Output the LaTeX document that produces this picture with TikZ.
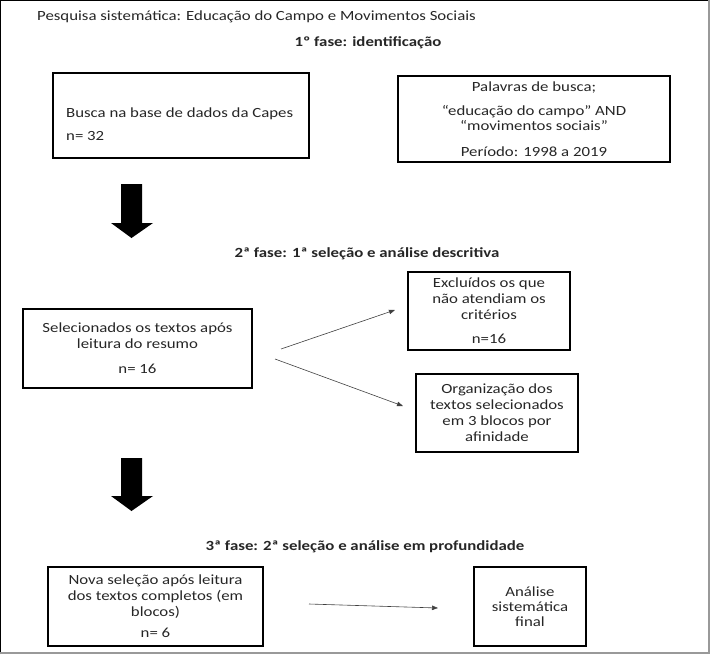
\documentclass[tikz,border=0pt]{standalone}
\usepackage{fontspec}
\setmainfont{Carlito}[FakeStretch=1.2]
\usetikzlibrary{arrows.meta}
\begin{document}
\begin{tikzpicture}[x=1pt,y=-1pt,
  txt/.style={inner sep=0pt, font=\fontsize{14}{16}\selectfont, text=black!85},
  box/.style={draw=black, line width=1.1pt, inner sep=0pt, align=center,
              font=\fontsize{14}{16}\selectfont, text=black!85},
  head/.style={inner sep=0pt, font=\fontsize{14}{16}\selectfont\bfseries, text=black!85},
  conn/.style={draw=black!75, line width=0.6pt, -{Triangle[length=6pt,width=4.5pt]}},
  bigarrow/.style={fill=black}]
\useasboundingbox (0,0) rectangle (710,654);
% frame
\draw[black, line width=1.2pt] (0.6,654) -- (0.6,0.6) -- (709,0.6);
\draw[black!40, line width=2pt] (709,0) -- (709,653) -- (0,653);

\node[txt, anchor=west] (title) at (37,17) {Pesquisa sistemática: Educação do Campo e Movimentos Sociais};

% phase 1
\node[head] (h1) at (368,43) {1º fase: identificação};
\node[box, minimum width=256pt, minimum height=85pt] (b1) at (181,115.5) {};
\node[txt, anchor=west, align=left] (t1) at (66,124.5) {Busca na base de dados da Capes\\[7pt]n= 32};
\node[box, minimum width=272pt, minimum height=86pt] (b2) at (534,119)
  {Palavras de busca;\\[8pt]“educação do campo” AND\\[-1pt]“movimentos sociais”\\[10pt]Período: 1998 a 2019};

\fill[bigarrow] (121,184) -- (142,184) -- (142,223) -- (153,223) -- (131.5,238) -- (111,223) -- (121,223) -- cycle;

% phase 2
\node[head] (h2) at (367,254) {2ª fase: 1ª seleção e análise descritiva};
\node[box, minimum width=229pt, minimum height=79pt] (b3) at (137.5,348.5)
  {Selecionados os textos após\\leitura do resumo\\[9pt]n= 16};
\node[box, minimum width=162pt, minimum height=78pt] (b4) at (489,311)
  {Excluídos os que\\não atendiam os\\critérios\\[8pt]n=16};
\node[box, minimum width=162pt, minimum height=78pt] (b5) at (497,413)
  {Organização dos\\textos selecionados\\em 3 blocos por\\afinidade};

\coordinate (a1s) at (281,349);
\coordinate (a1e) at (395,310);
\coordinate (a2s) at (275,359);
\coordinate (a2e) at (403,406);
\draw[conn] (a1s) -- (a1e);
\draw[conn] (a2s) -- (a2e);

\fill[bigarrow] (121,458) -- (142,458) -- (142,496) -- (153,496) -- (131.5,511) -- (111,496) -- (121,496) -- cycle;

% phase 3
\node[head] (h3) at (365,547) {3ª fase: 2ª seleção e análise em profundidade};
\node[box, minimum width=215pt, minimum height=79pt] (b6) at (155.5,606.5)
  {Nova seleção após leitura\\dos textos completos (em\\blocos)\\[5pt]n= 6};
\node[box, minimum width=112pt, minimum height=79pt] (b7) at (530,606.5)
  {Análise\\[-1pt]sistemática\\[-1pt]final};

\coordinate (a3s) at (309,604);
\coordinate (a3e) at (438,608);
\draw[conn] (a3s) -- (a3e);
\end{tikzpicture}
\end{document}
